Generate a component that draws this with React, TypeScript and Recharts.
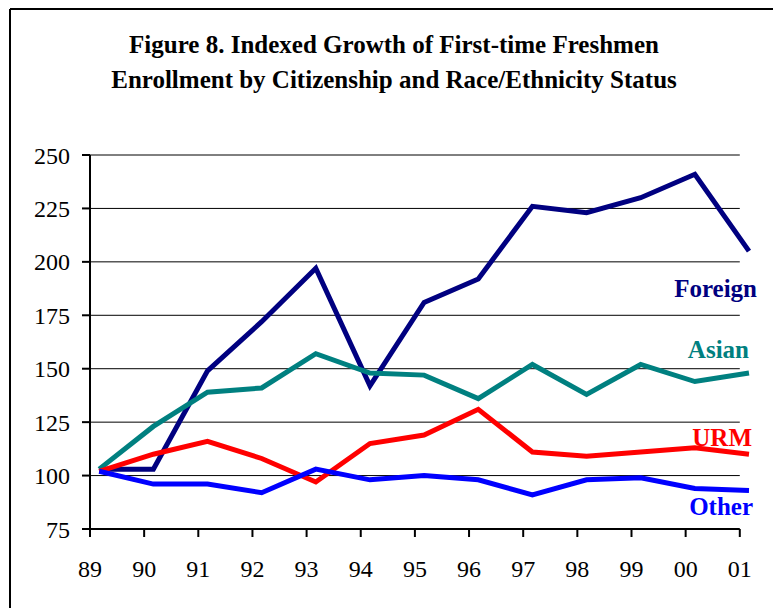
import React from 'react';
import { LineChart, Line, XAxis, YAxis, ReferenceLine } from 'recharts';

const years = ['89', '90', '91', '92', '93', '94', '95', '96', '97', '98', '99', '00', '01'];
const foreign = [103, 103, 149, 172, 197, 142, 181, 192, 226, 223, 230, 241, 205];
const asian = [103, 123, 139, 141, 157, 148, 147, 136, 152, 138, 152, 144, 148];
const urm = [102, 110, 116, 108, 97, 115, 119, 131, 111, 109, 111, 113, 110];
const other = [102, 96, 96, 92, 103, 98, 100, 98, 91, 98, 99, 94, 93];
const yTicks = [75, 100, 125, 150, 175, 200, 225, 250];
const titleLines = [
  'Figure 8. Indexed Growth of First-time Freshmen',
  'Enrollment by Citizenship and Race/Ethnicity Status',
];

const POINT_OFFSET = 0.17;
const FONT = 'Liberation Serif, DejaVu Serif, serif';
const lastIndex = years.length - 1;

const data = years.map((y, i) => ({
  x: i + POINT_OFFSET,
  Foreign: foreign[i],
  Asian: asian[i],
  URM: urm[i],
  Other: other[i],
}));

const series = [
  { key: 'Foreign', color: '#000080', dx: 8, dy: 46 },
  { key: 'Asian', color: '#008080', dx: 0, dy: -15 },
  { key: 'URM', color: '#FF0000', dx: 3, dy: -8 },
  { key: 'Other', color: '#0000FF', dx: 4, dy: 24 },
];

const makeLabel = (name: string, color: string, dx: number, dy: number) => (props: any) => {
  if (props.index !== lastIndex) return null;
  return (
    <text
      x={props.x + dx}
      y={props.y + dy}
      textAnchor="end"
      fill={color}
      style={{ fontFamily: FONT, fontWeight: 'bold', fontSize: 25 }}
    >
      {name}
    </text>
  );
};

export default function App() {
  return (
    <div style={{ position: 'absolute', left: 0, top: 0, width: 773, height: 608, background: '#fff', fontFamily: FONT }}>
      <LineChart
        width={773}
        height={608}
        data={data}
        margin={{ top: 155, right: 24, bottom: 19, left: 10 }}
        style={{ fontFamily: FONT }}
      >
        <XAxis
          type="number"
          dataKey="x"
          domain={[0, lastIndex + POINT_OFFSET]}
          ticks={years.map((_, i) => i)}
          tickFormatter={(v: number) => years[v]}
          axisLine={false}
          tickLine={{ stroke: '#000', strokeWidth: 2 }}
          tickSize={8}
          tickMargin={23}
          height={60}
          tick={{ fill: '#000', fontSize: 24, style: { fontFamily: FONT } }}
        />
        <YAxis
          type="number"
          domain={[75, 250]}
          ticks={yTicks}
          axisLine={{ stroke: '#000', strokeWidth: 2 }}
          tickLine={{ stroke: '#000', strokeWidth: 2 }}
          tickSize={8}
          tickMargin={12}
          width={80}
          tick={{ fill: '#000', fontSize: 24, style: { fontFamily: FONT } }}
        />
        {yTicks.map((v, i) => (
          <ReferenceLine
            key={v}
            segment={[{ x: 0, y: v }, { x: lastIndex, y: v }]}
            stroke="#000"
            strokeWidth={i === 0 ? 2 : 1}
          />
        ))}
        {series.map((s) => (
          <Line
            key={s.key}
            type="linear"
            dataKey={s.key}
            stroke={s.color}
            strokeWidth={5}
            strokeLinejoin="miter"
            dot={false}
            activeDot={false}
            isAnimationActive={false}
            label={makeLabel(s.key, s.color, s.dx, s.dy)}
          />
        ))}
      </LineChart>
      <svg
        width={773}
        height={608}
        style={{ position: 'absolute', left: 0, top: 0, pointerEvents: 'none' }}
      >
        <line x1={10} y1={9} x2={773} y2={9} stroke="#000" strokeWidth={2} />
        <line x1={10} y1={9} x2={10} y2={608} stroke="#000" strokeWidth={2} />
        {titleLines.map((t, i) => (
          <text
            key={i}
            x={394}
            y={53 + i * 35}
            textAnchor="middle"
            fill="#000"
            style={{ fontFamily: FONT, fontWeight: 'bold', fontSize: 25 }}
          >
            {t}
          </text>
        ))}
      </svg>
    </div>
  );
}
